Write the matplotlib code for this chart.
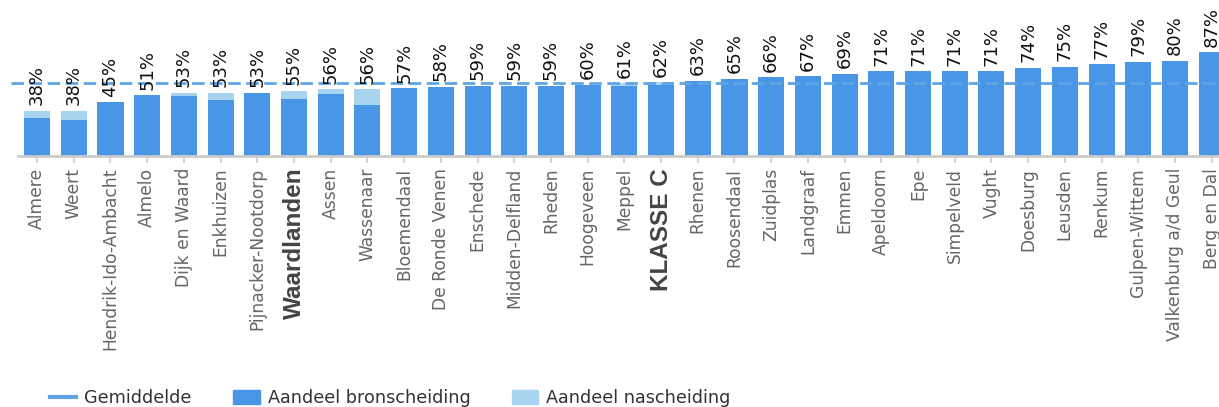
import matplotlib.pyplot as plt
from matplotlib.lines import Line2D
from matplotlib.patches import Patch

# Data
gemeenten = ["Almere", "Weert", "Hendrik-Ido-Ambacht", "Almelo", "Dijk en Waard",
             "Enkhuizen", "Pijnacker-Nootdorp", "Waardlanden", "Assen", "Wassenaar",
             "Bloemendaal", "De Ronde Venen", "Enschede", "Midden-Delfland", "Rheden",
             "Hoogeveen", "Meppel", "KLASSE C", "Rhenen", "Roosendaal", "Zuidplas",
             "Landgraaf", "Emmen", "Apeldoorn", "Epe", "Simpelveld", "Vught",
             "Doesburg", "Leusden", "Renkum", "Gulpen-Wittem", "Valkenburg a/d Geul",
             "Berg en Dal"]
bronscheiding = [32, 30, 45, 51, 50, 47, 53, 48, 52, 43, 57, 58, 59, 59, 59, 60, 59, 60,
                 63, 65, 66, 67, 69, 71, 71, 71, 71, 74, 75, 77, 79, 80, 87]
nascheiding = [6, 8, 0, 0, 3, 6, 0, 7, 4, 13, 0, 0, 0, 0, 0, 0, 2, 2,
               0, 0, 0, 0, 0, 0, 0, 0, 0, 0, 0, 0, 0, 0, 0]
totaal = [38, 38, 45, 51, 53, 53, 53, 55, 56, 56, 57, 58, 59, 59, 59, 60, 61, 62,
          63, 65, 66, 67, 69, 71, 71, 71, 71, 74, 75, 77, 79, 80, 87]
gemiddelde = 61.5
highlight = ["Waardlanden", "KLASSE C"]

dark = "#4a96e6"
light = "#a9d4f0"
avg_color = "#5fa5e6"

W, H = 1219, 407
fig = plt.figure(figsize=(W / 100, H / 100), dpi=100)
ax = fig.add_axes([18 / W, (H - 156) / H, (W - 18) / W, 156 / H])

x = list(range(len(gemeenten)))
ax.bar(x, bronscheiding, width=0.71, color=dark, zorder=2)
ax.bar(x, nascheiding, width=0.71, bottom=bronscheiding, color=light, zorder=2)
ax.plot([-0.72, 32.2], [gemiddelde, gemiddelde], color=avg_color, lw=2,
        dashes=(4.5, 2), zorder=3, clip_on=False)

for xi, t in zip(x, totaal):
    ax.annotate(f"{t}%", (xi, t), xytext=(0, 4), textcoords="offset points",
                rotation=90, ha="center", va="bottom", fontsize=13, color="#111111",
                annotation_clip=False)

ax.set_xlim(-0.52, 32.2)
ax.set_ylim(0, 131)
ax.set_yticks([])
for s in ["top", "right", "left"]:
    ax.spines[s].set_visible(False)
ax.spines["bottom"].set_color("#cccccc")
ax.spines["bottom"].set_linewidth(2)

ax.set_xticks(x)
ax.set_xticklabels(gemeenten, rotation=90, fontsize=12.3, color="#666666")
ax.tick_params(axis="x", length=5, width=1.2, color="#cccccc", pad=3.5)
for lbl in ax.get_xticklabels():
    if lbl.get_text() in highlight:
        lbl.set_fontweight("bold")
        lbl.set_fontfamily("Liberation Sans")
        lbl.set_fontsize(17.5)
        lbl.set_color("#444444")

handles = [Line2D([0], [0], color=avg_color, lw=3),
           Patch(color=dark),
           Patch(color=light)]
fig.legend(handles, ["Gemiddelde", "Aandeel bronscheiding", "Aandeel nascheiding"],
           loc="lower left", bbox_to_anchor=(0.028, -0.04), ncol=3, frameon=False,
           fontsize=12.7, labelcolor="#333333", handlelength=1.5, handleheight=0.85,
           columnspacing=2.35, handletextpad=0.45)

fig.savefig("out.png", dpi=100)
